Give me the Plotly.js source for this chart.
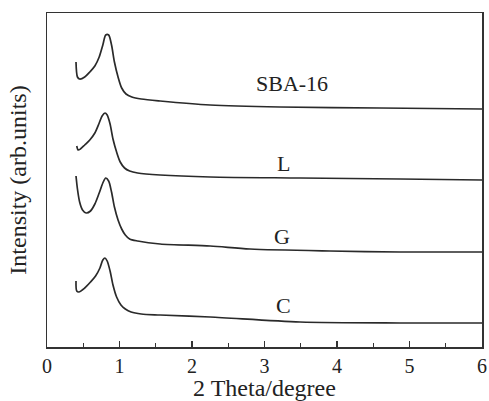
<!DOCTYPE html>
<html>
<head>
<meta charset="utf-8">
<script src="https://cdn.plot.ly/plotly-3.0.1.min.js"></script>
<style>html,body{margin:0;padding:0;background:#fff;}#chart{width:489px;height:401px;}</style>
</head>
<body>
<div id="chart"></div>
<script>
// 2 Theta (degree) and intensity (arb. units, offset stacked)
const sbaX = [0.40, 0.42, 0.45, 0.52, 0.59, 0.66, 0.72, 0.77, 0.81, 0.85, 0.89, 0.93, 0.98, 1.03, 1.09, 1.17, 1.30, 1.56, 2.25, 3.21, 4.59, 6.0];
const sbaY = [285, 270, 268, 270, 275, 281, 290, 302, 312, 312, 302, 285, 270, 259, 253, 250, 248, 246, 242, 240, 239, 238];

const lX = [0.41, 0.43, 0.46, 0.52, 0.59, 0.66, 0.72, 0.76, 0.80, 0.83, 0.87, 0.91, 0.96, 1.01, 1.07, 1.14, 1.25, 1.56, 2.25, 3.49, 4.87, 6.0];
const lY = [201, 197, 198, 202, 207, 214, 224, 231, 234, 232, 223, 208, 195, 185, 179, 176, 174, 172, 170, 169, 168, 167];

const gX = [0.40, 0.42, 0.45, 0.49, 0.54, 0.60, 0.66, 0.72, 0.77, 0.81, 0.85, 0.89, 0.93, 0.98, 1.03, 1.08, 1.14, 1.25, 1.56, 2.25, 2.80, 3.90, 4.87, 6.0];
const gY = [171, 158, 145, 137, 134, 136, 143, 154, 164, 169, 166, 155, 140, 127, 118, 112, 108, 106, 103, 101, 98, 96, 95, 95];

const cX = [0.40, 0.41, 0.44, 0.52, 0.60, 0.67, 0.73, 0.77, 0.80, 0.83, 0.87, 0.91, 0.96, 1.02, 1.08, 1.16, 1.30, 1.56, 2.25, 3.49, 4.87, 6.0];
const cY = [66, 56, 55, 59, 65, 71, 79, 87, 89, 86, 76, 62, 50, 42, 38, 35, 33, 32, 30, 25, 24, 24];

const sampleNames = ["SBA-16", "L", "G", "C"];
const labelX = [3.38, 3.26, 3.24, 3.26];
const labelY = [264, 184, 111, 42];

const tickVals = [0, 1, 2, 3, 4, 5, 6];
const tickText = ["0", "1", "2", "3", "4", "5", "6"];

const lineStyle = {color: "#2a2a2a", width: 1.7, shape: "spline", smoothing: 0.8};
const series = [[sbaX, sbaY], [lX, lY], [gX, gY], [cX, cY]];
const traces = series.map((s, i) => ({
  x: s[0], y: s[1], type: "scatter", mode: "lines", name: sampleNames[i],
  line: lineStyle, hoverinfo: "skip"
}));

const font = "Liberation Serif, Times New Roman, serif";
const annotations = sampleNames.map((n, i) => ({
  x: labelX[i], y: labelY[i], xref: "x", yref: "y", text: n, showarrow: false,
  font: {family: font, size: 22, color: "#222"}
}));

const layout = {
  width: 489, height: 401,
  margin: {l: 47, r: 7, t: 13, b: 54},
  paper_bgcolor: "#fff", plot_bgcolor: "#fff",
  showlegend: false,
  font: {family: font, color: "#222"},
  xaxis: {
    range: [0, 6], tickvals: tickVals, ticktext: tickText,
    ticks: "inside", ticklen: 6, tickwidth: 1.3, tickcolor: "#333",
    minor: {dtick: 0.5, tick0: 0, ticks: "inside", ticklen: 4, tickwidth: 1.2, tickcolor: "#333", showgrid: false},
    showline: true, linecolor: "#333", linewidth: 1.5, mirror: true,
    showgrid: false, zeroline: false,
    tickfont: {family: font, size: 20, color: "#222"},
    title: {text: "2 Theta/degree", font: {family: font, size: 24, color: "#222"}, standoff: 0}
  },
  yaxis: {
    range: [0, 334], showticklabels: false, ticks: "",
    showline: true, linecolor: "#333", linewidth: 1.5, mirror: true,
    showgrid: false, zeroline: false,
    title: {text: "Intensity (arb.units)", font: {family: font, size: 24, color: "#222"}, standoff: 12}
  },
  annotations: annotations
};

Plotly.newPlot("chart", traces, layout, {displayModeBar: false, staticPlot: true});
</script>
</body>
</html>
